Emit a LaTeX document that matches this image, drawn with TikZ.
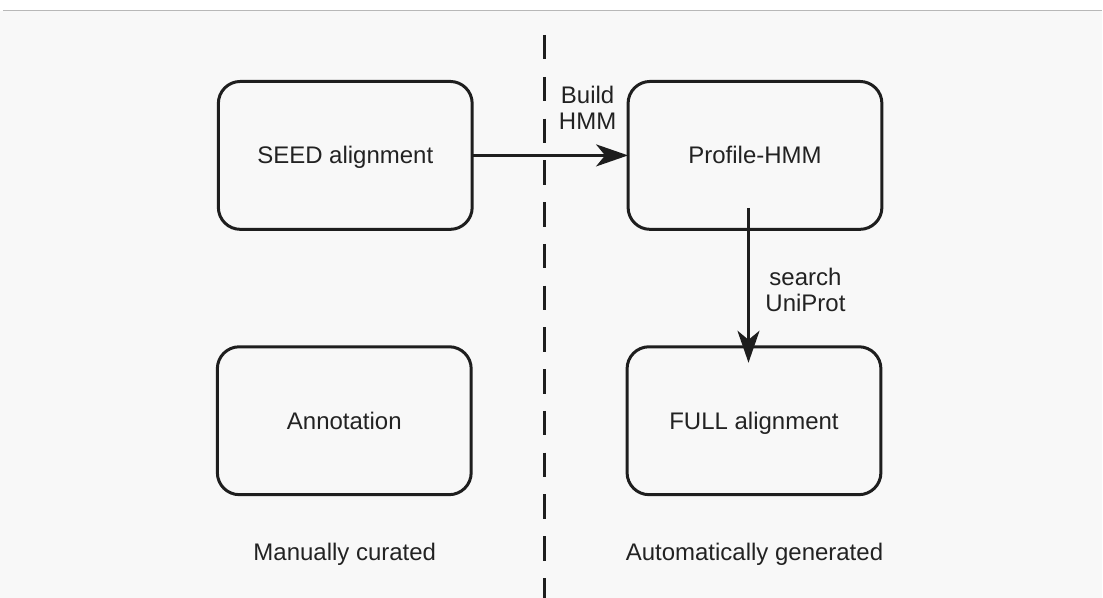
\documentclass[tikz,border=0pt]{standalone}
\usepackage{fontspec}
\setmainfont{Liberation Sans}
\usetikzlibrary{arrows.meta}
\definecolor{ink}{HTML}{1E1E1E}
\definecolor{txt}{HTML}{222222}
\definecolor{paper}{HTML}{F8F8F8}
\definecolor{rule}{HTML}{B8B8B8}
\tikzset{
  stagebox/.style={draw=ink, line width=3pt, rounded corners=22pt,
    minimum width=254pt, minimum height=148pt, outer sep=0pt,
    text height=17.2pt, text depth=0pt,
    text=txt, font=\fontsize{24pt}{26pt}\selectfont},
  flow/.style={draw=ink, line width=3pt,
    -{Stealth[length=32pt, width=22pt, inset=9pt]}},
  steplabel/.style={text=txt, align=center,
    font=\fontsize{24pt}{26pt}\selectfont},
  sidelabel/.style={text=txt, text height=17.2pt, text depth=0pt,
    font=\fontsize{24pt}{26pt}\selectfont},
  divider/.style={draw=ink, line width=3pt, dash pattern=on 24.5pt off 17.3pt}
}
\begin{document}
\begin{tikzpicture}[x=1pt, y=-1pt]
  % canvas
  \fill[white] (0,0) rectangle (1103,598);
  \fill[paper] (0,11) rectangle (1103,598);
  \draw[rule, line width=1.5pt] (3,10.5) -- (1103,10.5);
  \useasboundingbox (0,0) rectangle (1103,598);

  % split between curated and generated parts
  \coordinate (divtop) at (545,35);
  \coordinate (divbot) at (545,598);
  \draw[divider] (divtop) -- (divbot);

  % stages
  \node[stagebox] (seed) at (345.5,155.5) {SEED alignment};
  \node[stagebox] (prof) at (755.5,155.5) {Profile-HMM};
  \node[stagebox] (anno) at (344.5,421) {Annotation};
  \node[stagebox] (full) at (754.5,421) {FULL alignment};

  % steps
  \draw[flow] (seed.east) -- (prof.west);
  \draw[flow] ([xshift=-6.5pt,yshift=21.5pt]prof.south) -- ([xshift=-5.5pt,yshift=-16pt]full.north);

  \node[steplabel] (build) at (588,108) {Build\\HMM};
  \node[steplabel] (search) at (806,290) {search\\UniProt};

  % column captions
  \node[sidelabel] (manual) at (345,552) {Manually curated};
  \node[sidelabel] (auto) at (755,552) {Automatically generated};
\end{tikzpicture}
\end{document}
